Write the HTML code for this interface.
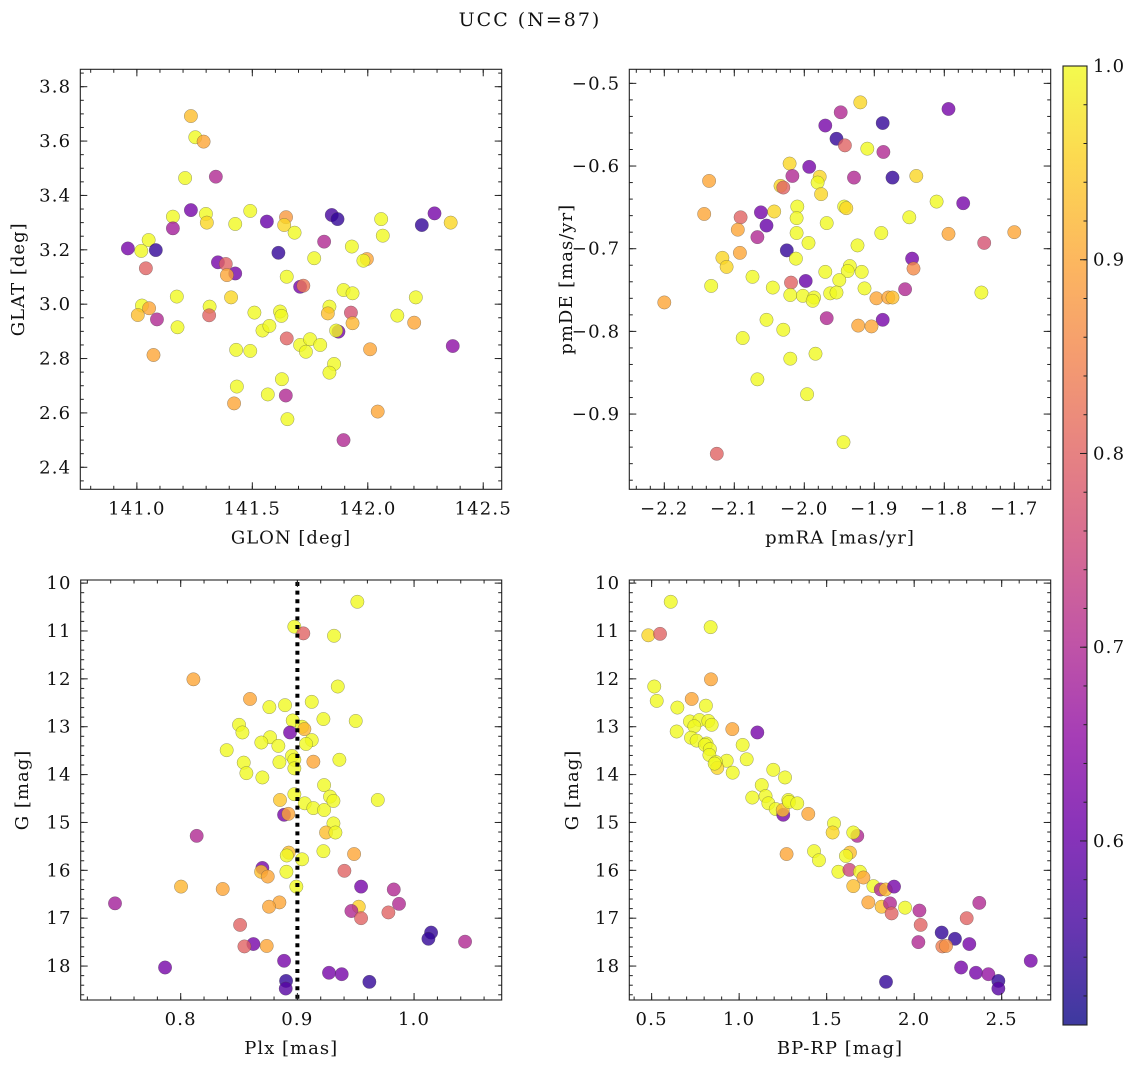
<!DOCTYPE html>
<html><head><meta charset="utf-8">
<style>
html,body{margin:0;padding:0;background:#fff;}
svg{display:block;font-family:"DejaVu Serif","Liberation Serif",serif;}
.tk{font-size:18px;letter-spacing:1.2px;}
.al{font-size:18px;letter-spacing:1px;}
</style></head>
<body>
<svg id="fig" width="1136" height="1067" viewBox="0 0 1136 1067" xmlns="http://www.w3.org/2000/svg">
<text x="530" y="26" font-size="19" letter-spacing="2" text-anchor="middle" fill="#111">UCC (N=87)</text>
</svg>
<script>
// ---- Panel 1: GLON vs GLAT ----
const glon=[141.234,141.253,141.289,141.209,141.342,141.234,141.156,141.299,141.303,141.156,140.961,141.051,141.019,141.082,141.039,141.351,141.385,141.426,141.390,141.426,141.491,141.563,141.646,141.638,141.683,141.613,141.649,141.707,141.721,141.768,141.811,141.844,141.869,141.931,141.996,141.981,142.058,142.065,142.234,142.289,142.359,142.368,141.173,141.022,141.004,141.053,141.087,141.176,141.072,141.315,141.313,141.408,141.509,141.544,141.574,141.620,141.626,141.649,141.430,141.491,141.707,141.750,141.732,141.794,141.834,141.827,141.895,141.934,141.927,141.934,141.873,141.863,141.854,141.834,142.010,142.128,142.208,142.201,141.433,141.421,141.567,141.628,141.645,141.652,142.043,141.895];
const glat=[3.692,3.614,3.598,3.464,3.469,3.346,3.322,3.332,3.300,3.279,3.205,3.236,3.196,3.199,3.132,3.154,3.148,3.113,3.107,3.295,3.343,3.304,3.320,3.291,3.263,3.189,3.101,3.064,3.068,3.169,3.230,3.328,3.313,3.212,3.166,3.160,3.313,3.252,3.291,3.334,3.300,2.846,3.028,2.995,2.960,2.985,2.944,2.915,2.813,2.991,2.959,3.025,2.969,2.903,2.920,2.973,2.957,2.874,2.832,2.828,2.850,2.871,2.825,2.850,2.991,2.966,3.052,3.040,2.969,2.930,2.899,2.903,2.780,2.748,2.834,2.958,3.025,2.932,2.697,2.635,2.668,2.724,2.664,2.577,2.605,2.500];
const probTL=[0.93,1,0.9,1,0.7,0.62,1,1,0.96,0.68,0.62,1,1,0.54,0.8,0.62,0.8,0.62,0.9,1,1,0.6,0.88,0.96,1,0.54,1,0.62,0.83,1,0.7,0.56,0.54,1,0.9,1,1,1,0.54,0.62,0.96,0.65,1,1,0.93,0.9,0.7,1,0.9,1,0.8,0.96,1,1,1,1,1,0.8,1,1,1,1,1,1,1,0.93,1,1,0.77,0.92,0.62,1,1,1,0.9,1,1,0.9,1,0.9,1,1,0.7,1,0.9,0.7];
// ---- Panel 2: pmRA vs pmDE ----
const pmra=[-1.920,-1.948,-1.794,-1.970,-1.888,-1.954,-1.942,-1.910,-1.887,-2.021,-1.993,-2.017,-1.978,-1.981,-1.929,-1.874,-1.840,-2.136,-2.034,-2.030,-1.976,-1.811,-1.773,-1.943,-1.940,-2.010,-2.143,-2.091,-2.062,-2.043,-2.011,-1.968,-1.850,-2.054,-2.095,-2.067,-2.011,-1.994,-1.890,-1.794,-1.700,-1.743,-1.924,-2.025,-2.012,-2.092,-2.117,-2.111,-1.846,-1.844,-1.935,-1.938,-1.918,-1.970,-1.950,-2.074,-1.998,-2.019,-2.133,-2.045,-1.914,-1.856,-1.747,-2.200,-2.020,-2.002,-1.986,-1.988,-1.963,-1.954,-1.897,-1.880,-1.874,-1.968,-1.888,-1.923,-1.904,-2.054,-2.030,-2.088,-1.984,-2.020,-2.067,-1.996,-1.944,-2.125];
const pmde=[-0.523,-0.535,-0.531,-0.551,-0.548,-0.567,-0.575,-0.579,-0.583,-0.597,-0.601,-0.612,-0.613,-0.620,-0.614,-0.614,-0.612,-0.618,-0.624,-0.626,-0.634,-0.643,-0.645,-0.649,-0.651,-0.649,-0.658,-0.662,-0.656,-0.655,-0.663,-0.669,-0.662,-0.672,-0.677,-0.686,-0.681,-0.693,-0.681,-0.682,-0.680,-0.693,-0.696,-0.702,-0.712,-0.705,-0.711,-0.722,-0.712,-0.724,-0.721,-0.727,-0.728,-0.728,-0.738,-0.734,-0.739,-0.741,-0.745,-0.747,-0.748,-0.749,-0.753,-0.765,-0.756,-0.757,-0.759,-0.763,-0.754,-0.753,-0.760,-0.759,-0.759,-0.784,-0.786,-0.793,-0.794,-0.786,-0.798,-0.808,-0.827,-0.833,-0.858,-0.876,-0.934,-0.948];
const probTR=[0.96,0.7,0.62,0.62,0.54,0.54,0.8,1,0.7,0.96,0.62,0.7,0.96,1,0.7,0.54,0.96,0.9,0.96,0.8,0.96,1,0.62,1,0.96,1,0.9,0.8,0.62,0.96,1,1,1,0.6,0.9,0.7,1,1,1,0.9,0.9,0.77,1,0.54,1,0.9,0.96,0.96,0.62,0.86,1,1,1,1,1,1,0.6,0.8,1,1,1,0.7,1,0.9,1,1,1,1,1,1,0.9,0.9,0.93,0.7,0.62,0.9,0.9,1,1,1,1,1,1,1,1,0.8];
// ---- Panel 3: Plx vs G ----
const plx=[0.9514,0.8974,0.9051,0.9314,0.8109,0.9346,0.8594,0.9123,0.876,0.8894,0.9223,0.95,0.896,0.904,0.906,0.85,0.8529,0.8937,0.8766,0.9123,0.9074,0.8691,0.8837,0.8394,0.8954,0.8974,0.854,0.8846,0.9137,0.936,0.8974,0.8563,0.87,0.9229,0.8974,0.928,0.9309,0.9689,0.8851,0.9063,0.9137,0.9229,0.8886,0.8923,0.9309,0.9246,0.9326,0.8137,0.9223,0.9486,0.8926,0.8909,0.904,0.87,0.8689,0.8906,0.8746,0.9403,0.9546,0.8991,0.8003,0.836,0.9826,0.7437,0.8846,0.8757,0.9526,0.9463,0.9871,0.9546,0.978,0.8509,1.0146,1.0123,1.0437,0.8623,0.8546,0.8737,0.8886,0.7866,0.9271,0.938,0.8903,0.9617,0.89];
const gmagBL=[10.39,10.91,11.05,11.10,12.01,12.16,12.42,12.48,12.59,12.55,12.84,12.88,12.87,13.00,13.05,12.96,13.12,13.12,13.22,13.28,13.36,13.33,13.40,13.49,13.61,13.69,13.75,13.74,13.73,13.69,13.87,13.97,14.06,14.22,14.41,14.46,14.55,14.53,14.53,14.60,14.70,14.74,14.84,14.82,15.02,15.21,15.21,15.28,15.60,15.66,15.63,15.69,15.77,15.95,16.03,16.03,16.13,16.01,16.34,16.34,16.34,16.39,16.40,16.69,16.67,16.76,16.76,16.85,16.70,17.00,16.88,17.14,17.30,17.43,17.49,17.54,17.59,17.58,17.89,18.03,18.14,18.17,18.31,18.33,18.47];
const probBL=[1,1,0.8,1,0.9,1,0.9,1,1,1,1,1,1,1,0.92,1,1,0.62,1,1,1,1,1,1,1,1,1,1,0.9,1,1,1,1,1,1,1,1,1,0.94,1,1,1,0.62,0.9,1,0.93,1,0.7,1,0.9,0.93,1,1,0.62,0.93,1,0.9,0.8,0.62,1,0.92,0.9,0.7,0.68,0.9,0.9,0.95,0.7,0.7,0.8,0.8,0.8,0.54,0.54,0.7,0.62,0.8,0.9,0.62,0.62,0.62,0.62,0.54,0.54,0.58];
const plxRef=[0.9];
// ---- Panel 4: BP-RP vs G ----
const bprp=[0.609,0.481,0.548,0.837,0.839,0.515,0.529,0.729,0.647,0.810,0.719,0.773,0.824,0.843,0.744,0.643,0.961,1.104,0.725,0.757,0.814,0.805,0.833,0.830,1.020,1.043,0.929,0.868,0.875,0.860,0.963,1.195,1.262,1.129,1.075,1.151,1.167,1.209,1.252,1.249,1.281,1.285,1.332,1.395,1.542,1.534,1.675,1.652,1.271,1.428,1.456,1.633,1.610,1.567,1.630,1.690,1.710,1.652,1.767,1.809,1.837,1.885,1.738,1.814,1.862,1.871,1.948,2.030,2.037,2.372,2.300,2.157,2.233,2.024,2.315,2.161,2.182,2.666,2.268,2.353,2.424,2.481,2.481,1.839];
const gmagBR=[10.39,11.09,11.06,10.92,12.01,12.16,12.46,12.42,12.60,12.56,12.89,12.86,12.88,12.96,12.99,13.10,13.05,13.12,13.23,13.29,13.35,13.38,13.47,13.59,13.38,13.68,13.71,13.74,13.86,13.77,13.96,13.90,14.06,14.22,14.48,14.45,14.60,14.72,14.84,14.74,14.53,14.57,14.60,14.82,15.02,15.21,15.28,15.21,15.66,15.60,15.79,15.63,15.70,16.03,15.99,16.03,16.15,16.33,16.33,16.40,16.40,16.34,16.67,16.76,16.69,16.90,16.78,16.84,17.14,16.68,17.00,17.30,17.43,17.50,17.54,17.59,17.58,17.89,18.03,18.14,18.17,18.31,18.47,18.33];
const probBR=[1,0.96,0.8,1,0.9,1,1,0.9,1,1,1,1,1,1,1,1,0.9,0.62,1,1,1,1,1,1,1,1,1,1,0.96,1,1,1,1,1,1,1,1,1,0.62,0.93,1,1,1,0.9,1,0.96,0.7,1,0.9,1,1,0.93,1,1,0.75,1,0.9,0.93,1,0.7,0.93,0.62,0.9,0.93,0.7,0.8,1,0.7,0.8,0.7,0.8,0.54,0.54,0.7,0.62,0.84,0.87,0.62,0.62,0.62,0.66,0.54,0.58,0.54];
// ---- Colorbar ----
const cbTicks=[0.6,0.7,0.8,0.9,1.0];
const cbRange=[0.505,1.0];

const NS='http://www.w3.org/2000/svg';
const svg=document.getElementById('fig');
function mk(tag,attrs,parent){const e=document.createElementNS(NS,tag);for(const k in attrs)e.setAttribute(k,attrs[k]);(parent||svg).appendChild(e);return e;}
const plasma=[[13,8,135],[65,4,157],[106,0,168],[143,13,164],[177,42,144],[204,71,120],[225,100,98],[242,132,75],[252,166,54],[252,206,37],[240,249,33]];
function cmap(p){let t=(p-cbRange[0])/(cbRange[1]-cbRange[0]);t=Math.max(0,Math.min(1,t));const f=t*10,i=Math.min(9,Math.floor(f)),r=f-i;const a=plasma[i],b=plasma[i+1];return 'rgb('+[0,1,2].map(k=>Math.round(a[k]+(b[k]-a[k])*r)).join(',')+')';}
function fmt(v,d){const s=Math.abs(v).toFixed(d);return (v<-1e-9?'\u2212':'')+s;}

function panel(o){
  const g=mk('g',{});
  
  
  const X=v=>o.x+(v-o.xmin)/(o.xmax-o.xmin)*o.w;
  const Y=v=>o.inv? o.y+(v-o.ymin)/(o.ymax-o.ymin)*o.h : o.y+o.h-(v-o.ymin)/(o.ymax-o.ymin)*o.h;
  const pg=mk('g',{},g);
  
  
  const n=Math.min(o.xs.length,o.ys.length,o.ps.length);
  for(let i=0;i<n;i++){
    const c=mk('circle',{cx:X(o.xs[i]),cy:Y(o.ys[i]),r:6.7,fill:cmap(o.ps[i]),'fill-opacity':0.8,stroke:'rgba(70,70,70,0.55)','stroke-width':0.5},pg);
    
    
  }
  if(o.vline){for(const v of o.vline){const l=mk('line',{x1:X(v),x2:X(v),y1:o.y+2,y2:o.y+o.h,stroke:'#000','stroke-width':4,'stroke-dasharray':'4,4.6'},g);
    
    }}
  const f=mk('rect',{x:o.x,y:o.y,width:o.w,height:o.h,fill:'none',stroke:'#222','stroke-width':1.1},g);
  
  
  const tk=mk('g',{stroke:'#222','stroke-width':1},g);
  function ticksRange(mn,mx,st){const a=[];const s=Math.ceil(mn/st-1e-6);for(let k=s;k*st<=mx+1e-9;k++)a.push(+(k*st).toFixed(6));return a;}
  for(const v of ticksRange(o.xmin,o.xmax,o.xminor)){const px=X(v);mk('line',{x1:px,x2:px,y1:o.y+o.h,y2:o.y+o.h-3.5},tk);mk('line',{x1:px,x2:px,y1:o.y,y2:o.y+3.5},tk);}
  for(const v of ticksRange(Math.min(o.ymin,o.ymax),Math.max(o.ymin,o.ymax),o.yminor)){const py=Y(v);mk('line',{x1:o.x,x2:o.x+3.5,y1:py,y2:py},tk);mk('line',{x1:o.x+o.w,x2:o.x+o.w-3.5,y1:py,y2:py},tk);}
  for(const v of ticksRange(o.xmin,o.xmax,o.xmajor)){const px=X(v);mk('line',{x1:px,x2:px,y1:o.y+o.h,y2:o.y+o.h-7},tk);mk('line',{x1:px,x2:px,y1:o.y,y2:o.y+7},tk);
    const t=mk('text',{x:px,y:o.y+o.h+25,'class':'tk','text-anchor':'middle',fill:'#111'},g);t.textContent=fmt(v,o.xd);
    }
  for(const v of ticksRange(Math.min(o.ymin,o.ymax),Math.max(o.ymin,o.ymax),o.ymajor)){const py=Y(v);mk('line',{x1:o.x,x2:o.x+7,y1:py,y2:py},tk);mk('line',{x1:o.x+o.w,x2:o.x+o.w-7,y1:py,y2:py},tk);
    const t=mk('text',{x:o.x-9,y:py+6,'class':'tk','text-anchor':'end',fill:'#111'},g);t.textContent=fmt(v,o.yd);
    }
  const xl=mk('text',{x:o.x+o.w/2,y:o.y+o.h+54,'class':'al','text-anchor':'middle',fill:'#111'},g);xl.textContent=o.xlabel;
  
  const yx=o.ylx,yy=o.y+o.h/2;
  const yl=mk('text',{x:yx,y:yy,'class':'al','text-anchor':'middle',fill:'#111',transform:'rotate(-90 '+yx+' '+yy+')'},g);yl.textContent=o.ylabel;
  
}

panel({name:'glon-glat-panel',x:80.3,y:69.3,w:421.4,h:420,xmin:140.755,xmax:142.58,ymin:2.319,ymax:3.864,inv:false,xs:glon,ys:glat,ps:probTL,xmajor:0.5,xminor:0.1,ymajor:0.2,yminor:0.05,xd:1,yd:1,xlabel:'GLON [deg]',ylabel:'GLAT [deg]',ylx:24});
panel({name:'pm-panel',x:629.3,y:69.3,w:421.4,h:420,xmin:-2.25,xmax:-1.648,ymin:-0.991,ymax:-0.483,inv:false,xs:pmra,ys:pmde,ps:probTR,xmajor:0.1,xminor:0.02,ymajor:0.1,yminor:0.02,xd:1,yd:1,xlabel:'pmRA [mas/yr]',ylabel:'pmDE [mas/yr]',ylx:572});
panel({name:'plx-g-panel',x:80.7,y:580,w:421,h:420,xmin:0.7143,xmax:1.0751,ymin:9.935,ymax:18.709,inv:true,xs:plx,ys:gmagBL,ps:probBL,xmajor:0.1,xminor:0.02,ymajor:1,yminor:0.2,xd:1,yd:0,xlabel:'Plx [mas]',ylabel:'G [mag]',ylx:28,vline:plxRef});
panel({name:'cmd-panel',x:629.3,y:580,w:421.4,h:420,xmin:0.3724,xmax:2.780,ymin:9.935,ymax:18.709,inv:true,xs:bprp,ys:gmagBR,ps:probBR,xmajor:0.5,xminor:0.1,ymajor:1,yminor:0.2,xd:1,yd:0,xlabel:'BP-RP [mag]',ylabel:'G [mag]',ylx:578});

(function(){
  const cx=1063,cy=66,cw=24,ch=959;
  const defs=mk('defs',{});
  const lg=mk('linearGradient',{id:'cbg',x1:0,y1:1,x2:0,y2:0},defs);
  plasma.forEach((c,i)=>mk('stop',{offset:(i/10),'stop-color':'rgb('+c.join(',')+')'},lg));
  const r=mk('rect',{x:cx,y:cy,width:cw,height:ch,fill:'url(#cbg)','fill-opacity':0.8,stroke:'#222','stroke-width':1.1});
  
  
  const CY=v=>cy+ch-(v-cbRange[0])/(cbRange[1]-cbRange[0])*ch;
  for(let k=Math.ceil(cbRange[0]/0.02);k*0.02<=cbRange[1]+1e-9;k++){const py=CY(k*0.02);mk('line',{x1:cx+cw,x2:cx+cw-3.5,y1:py,y2:py,stroke:'#222','stroke-width':1});}
  for(const v of cbTicks){const py=CY(v);mk('line',{x1:cx+cw,x2:cx+cw-7,y1:py,y2:py,stroke:'#222','stroke-width':1});
    const t=mk('text',{x:cx+cw+6,y:py+6,'class':'tk',fill:'#111'});t.textContent=v.toFixed(1);
    }
})();
</script>
</body></html>
